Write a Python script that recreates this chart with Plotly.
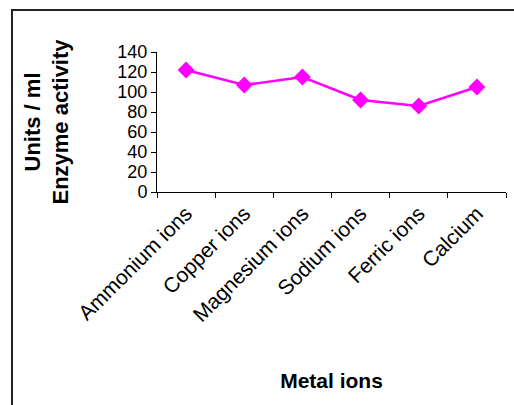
import plotly.graph_objects as go

# Enzyme activity by metal ion
metal_ions = ["Ammonium ions", "Copper ions", "Magnesium ions", "Sodium ions", "Ferric ions", "Calcium"]
activity = [122, 107, 115, 92, 86, 105]
y_ticks = [0, 20, 40, 60, 80, 100, 120, 140]

W, H = 514, 405
ml, mr, mt, mb = 157, 8, 52, 213
pw = W - ml - mr
ph = H - mt - mb

fig = go.Figure(
    go.Scatter(
        x=metal_ions,
        y=activity,
        mode="lines+markers",
        line=dict(color="#FF00FF", width=2.5),
        marker=dict(symbol="diamond", size=13, color="#FF00FF"),
        showlegend=False,
    )
)

font = "Liberation Sans, Arial, sans-serif"

fig.update_layout(
    width=W,
    height=H,
    margin=dict(l=ml, r=mr, t=mt, b=mb, autoexpand=False),
    paper_bgcolor="white",
    plot_bgcolor="white",
    font=dict(family=font, size=20, color="black"),
    xaxis=dict(
        type="category",
        tickson="boundaries",
        ticks="outside",
        ticklen=5,
        tickcolor="black",
        tickangle=-45,
        tickfont=dict(size=21),
        showline=True,
        linecolor="black",
        linewidth=1,
        showgrid=False,
        zeroline=False,
        range=[-0.5, 5.5],
        title=dict(text="<b>Metal ions</b>", font=dict(size=21), standoff=48),
    ),
    yaxis=dict(
        range=[0, 140],
        tickvals=y_ticks,
        ticks="outside",
        ticklen=5,
        tickcolor="black",
        tickfont=dict(size=18),
        showline=True,
        linecolor="black",
        linewidth=1,
        showgrid=False,
        zeroline=False,
        title=dict(text="<b>Units / ml<br>Enzyme activity</b>", font=dict(size=22), standoff=42),
    ),
)

# Frame around the chart area
fig.add_shape(
    type="rect",
    xref="paper",
    yref="paper",
    x0=(12 - ml) / pw,
    x1=(W + 10 - ml) / pw,
    y0=(H - mb - (H + 10)) / ph,
    y1=(H - mb - 10) / ph,
    line=dict(color="#222222", width=2),
    fillcolor="rgba(0,0,0,0)",
    layer="below",
)

fig.write_html("out.html")
